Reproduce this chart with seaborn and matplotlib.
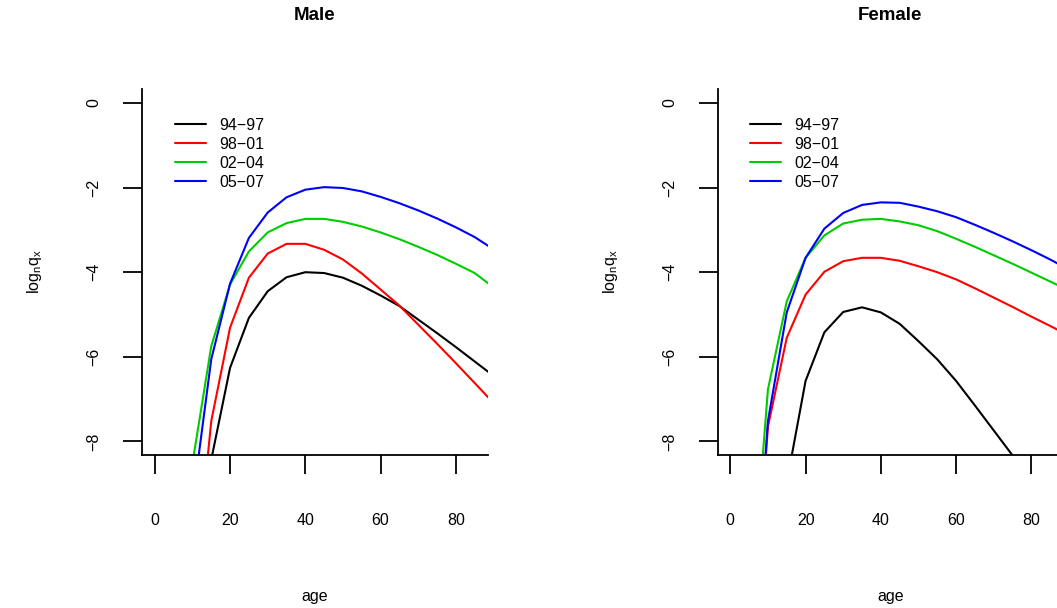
import pandas as pd
import matplotlib
matplotlib.use("Agg")
import matplotlib.pyplot as plt
import seaborn as sns

# ages (5-year steps) and log mortality curves
ages = [5, 10, 15, 20, 25, 30, 35, 40, 45, 50, 55, 60, 65, 70, 75, 80, 85, 90]
periods = ["94\u221297", "98\u221201", "02\u221204", "05\u221207"]
colors = ["#000000", "#FF0000", "#00CD00", "#0000FF"]

male_9497 = [-13.0, -11.0, -8.43, -6.26, -5.08, -4.45, -4.12, -4.00, -4.02, -4.13, -4.32, -4.55, -4.80, -5.12, -5.44, -5.77, -6.11, -6.45]
male_9801 = [-14.0, -12.0, -7.52, -5.31, -4.13, -3.56, -3.33, -3.33, -3.47, -3.70, -4.03, -4.41, -4.79, -5.24, -5.69, -6.15, -6.62, -7.09]
male_0204 = [-11.0, -8.52, -5.75, -4.29, -3.51, -3.06, -2.84, -2.74, -2.74, -2.81, -2.92, -3.06, -3.22, -3.40, -3.59, -3.80, -4.02, -4.36]
male_0507 = [-12.0, -9.46, -6.06, -4.27, -3.19, -2.59, -2.23, -2.05, -1.99, -2.01, -2.09, -2.22, -2.37, -2.54, -2.73, -2.94, -3.17, -3.46]

female_9497 = [-14.0, -12.0, -8.97, -6.57, -5.42, -4.94, -4.83, -4.95, -5.22, -5.63, -6.06, -6.57, -7.15, -7.74, -8.33, -9.10, -9.80, -10.50]
female_9801 = [-14.0, -7.65, -5.55, -4.53, -3.99, -3.74, -3.66, -3.66, -3.73, -3.86, -4.00, -4.17, -4.38, -4.60, -4.82, -5.05, -5.27, -5.50]
female_0204 = [-12.5, -6.77, -4.69, -3.66, -3.13, -2.85, -2.76, -2.74, -2.80, -2.89, -3.03, -3.21, -3.40, -3.60, -3.80, -4.01, -4.22, -4.43]
female_0507 = [-13.7, -7.52, -4.95, -3.66, -2.97, -2.60, -2.41, -2.35, -2.36, -2.45, -2.56, -2.70, -2.88, -3.07, -3.27, -3.48, -3.70, -3.94]

x_ticks = [0, 20, 40, 60, 80]
y_ticks = [0, -2, -4, -6, -8]


def long_frame(series):
    rows = []
    for period, values in zip(periods, series):
        for a, v in zip(ages, values):
            rows.append({"age": a, "logq": v, "period": period})
    return pd.DataFrame(rows)


df_male = long_frame([male_9497, male_9801, male_0204, male_0507])
df_female = long_frame([female_9497, female_9801, female_0204, female_0507])

sns.set_style("ticks")
plt.rcParams["font.family"] = ["Liberation Sans", "DejaVu Sans"]
plt.rcParams["axes.linewidth"] = 1.3
plt.rcParams["text.color"] = "black"
plt.rcParams["axes.edgecolor"] = "black"
plt.rcParams["xtick.color"] = "black"
plt.rcParams["ytick.color"] = "black"

FS = 11.5
W, H = 1057, 608
fig = plt.figure(figsize=(W / 100, H / 100), dpi=100)

panels = [("Male", df_male, 142.0), ("Female", df_female, 717.5)]
ax_w = 345.5
for title, df, left in panels:
    ax = fig.add_axes([left / W, 153 / H, ax_w / W, 365.6 / H])
    sns.lineplot(data=df, x="age", y="logq", hue="period", hue_order=periods,
                 palette=colors, linewidth=1.5, legend=False, ax=ax)
    ax.set_xlim(-3.4, 88.4)
    ax.set_ylim(-8.32, 0.32)
    ax.set_xticks(x_ticks)
    ax.set_yticks(y_ticks)
    ax.set_yticklabels([str(t).replace("-", "\u2212") for t in y_ticks],
                       rotation=90, va="center")
    ax.tick_params(axis="x", length=13.7, width=1.3, pad=28, labelsize=FS)
    ax.tick_params(axis="y", length=13.7, width=1.3, pad=15.5, labelsize=FS)
    ax.set_xlabel("")
    ax.set_ylabel("")
    sns.despine(ax=ax)
    ax.legend(handles=ax.get_lines(), labels=periods, loc="upper left",
              bbox_to_anchor=(0.0955, 0.922), frameon=False, fontsize=FS,
              handlelength=1.92, handletextpad=0.83, labelspacing=0.25,
              borderaxespad=0, borderpad=0)

    cx = (left + ax_w / 2) / W
    fig.text(cx, 1 - 15 / H, title, ha="center", va="center",
             fontsize=13.5, fontweight="bold")
    fig.text(cx, 1 - 596 / H, "age", ha="center", va="center", fontsize=FS)
    fig.text((left - 107) / W, 1 - 272 / H,
             r"log$_{\mathregular{n}}$q$_{\mathregular{x}}$",
             rotation=90, ha="center", va="center", fontsize=FS)

fig.savefig("out.png", dpi=100)
